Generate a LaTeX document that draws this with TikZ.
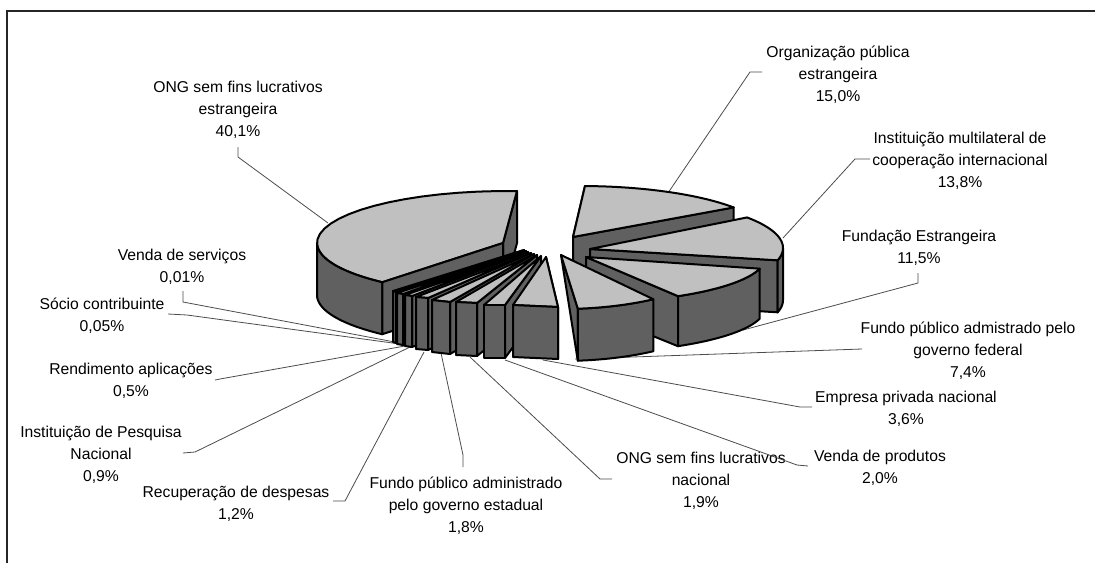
\documentclass[tikz,border=0pt]{standalone}
\usepackage{fontspec}
\setmainfont{Liberation Sans}
\definecolor{lgray}{RGB}{192,192,192}
\definecolor{dgray}{RGB}{96,96,96}
% thin slice: apex (#1,#2), front-left (#3,#4), front-right (#5,#6), depth #7
\newcommand{\smallslice}[7]{%
  \filldraw[side] (#5,#6) -- (#1,#2) -- ({#1},{#2+#7}) -- ({#5},{#6+#7}) -- cycle;
  \filldraw[top] (#1,#2) -- (#3,#4) -- (#5,#6) -- cycle;
  \filldraw[side] (#3,#4) -- (#5,#6) -- ({#5},{#6+#7}) -- ({#3},{#4+#7}) -- cycle;}
\begin{document}
\begin{tikzpicture}[x=1pt,y=-1pt,
  top/.style={fill=lgray,draw=black,line width=2pt,line join=round},
  side/.style={fill=dgray,draw=black,line width=2pt,line join=round},
  ea/.style={samples=25,variable=\q},
  lead/.style={draw=black!70,line width=0.8pt},
  lbl/.style={font=\fontsize{15.7}{22}\selectfont,align=center,inner sep=0pt,anchor=north}]
\useasboundingbox (0,0) rectangle (1095,563);
\fill[white] (0,0) rectangle (1095,563);
\draw[line width=2.5pt,black!85] (7,563) -- (7,11) -- (1095,11);

% ---------- labels ----------
\node[lbl] (l-ongest) at (238,77.2) {\strut ONG sem fins lucrativos\\estrangeira\\40,1\%};
\node[lbl] (l-org) at (838,42.2) {\strut Organização pública\\estrangeira\\15,0\%};
\node[lbl] (l-multi) at (960,128.2) {\strut Instituição multilateral de\\cooperação internacional\\13,8\%};
\node[lbl] (l-fund) at (919,226.2) {\strut Fundação Estrangeira\\11,5\%};
\node[lbl] (l-fed) at (968,318.2) {\strut Fundo público admistrado pelo\\governo federal\\7,4\%};
\node[lbl] (l-emp) at (906,387.2) {\strut Empresa privada nacional\\3,6\%};
\node[lbl] (l-vprod) at (880,446.2) {\strut Venda de produtos\\2,0\%};
\node[lbl] (l-ongnac) at (701,448.2) {\strut ONG sem fins lucrativos\\nacional\\1,9\%};
\node[lbl] (l-est) at (466,473.2) {\strut Fundo público administrado\\pelo governo estadual\\1,8\%};
\node[lbl] (l-rec) at (236,482) {\strut Recuperação de despesas\\1,2\%};
\node[lbl] (l-pesq) at (101,422.2) {\strut Instituição de Pesquisa\\Nacional\\0,9\%};
\node[lbl] (l-rend) at (131,359.2) {\strut Rendimento aplicações\\0,5\%};
\node[lbl] (l-socio) at (102,294.2) {\strut Sócio contribuinte\\0,05\%};
\node[lbl] (l-serv) at (182,245.2) {\strut Venda de serviços\\0,01\%};

% ---------- leader line end points ----------
\coordinate (t-ongest) at (238,147); \coordinate (k-ongest) at (238,157); \coordinate (p-ongest) at (328,223);
\coordinate (t-org) at (762,72);     \coordinate (k-org) at (750,72);     \coordinate (p-org) at (668,193);
\coordinate (t-multi) at (870,159);  \coordinate (k-multi) at (855,159);  \coordinate (p-multi) at (783,238);
\coordinate (t-fund) at (918,273);   \coordinate (k-fund) at (918,283);   \coordinate (p-fund) at (743,330);
\coordinate (t-fed) at (862,349);    \coordinate (p-fed) at (575,359);
\coordinate (t-emp) at (812,407);    \coordinate (k-emp) at (800,407);    \coordinate (p-emp) at (543,360);
\coordinate (t-vprod) at (808,466);  \coordinate (k-vprod) at (797,465);  \coordinate (p-vprod) at (505,360);
\coordinate (t-ongnac) at (612,479); \coordinate (k-ongnac) at (600,479); \coordinate (p-ongnac) at (470,357);
\coordinate (t-est) at (463,467);    \coordinate (k-est) at (463,455);    \coordinate (p-est) at (441,353);
\coordinate (t-rec) at (333,501);    \coordinate (k-rec) at (345,501);    \coordinate (p-rec) at (424,352);
\coordinate (t-pesq) at (183,453);   \coordinate (k-pesq) at (195,452);   \coordinate (p-pesq) at (410,347);
\coordinate (t-rend) at (215,380);   \coordinate (k-rend) at (220,379);   \coordinate (p-rend) at (405,346);
\coordinate (t-socio) at (168,314);  \coordinate (k-socio) at (187,315);  \coordinate (p-socio) at (400,344);
\coordinate (t-serv) at (183,291);   \coordinate (k-serv) at (183,302);   \coordinate (p-serv) at (400,343);

\draw[lead] (t-ongest) -- (k-ongest) -- (p-ongest);
\draw[lead] (t-org) -- (k-org) -- (p-org);
\draw[lead] (t-multi) -- (k-multi) -- (p-multi);
\draw[lead] (t-fund) -- (k-fund) -- (p-fund);
\draw[lead] (t-fed) -- (p-fed);
\draw[lead] (t-emp) -- (k-emp) -- (p-emp);
\draw[lead] (t-vprod) -- (k-vprod) -- (p-vprod);
\draw[lead] (t-ongnac) -- (k-ongnac) -- (p-ongnac);
\draw[lead] (t-est) -- (k-est) -- (p-est);
\draw[lead] (t-rec) -- (k-rec) -- (p-rec);
\draw[lead] (t-pesq) -- (k-pesq) -- (p-pesq);
\draw[lead] (t-rend) -- (k-rend) -- (p-rend);
\draw[lead] (t-socio) -- (k-socio) -- (p-socio);
\draw[lead] (t-serv) -- (k-serv) -- (p-serv);

% ---------- Organizacao publica estrangeira (15,0%) ----------
\filldraw[side] (573,237) -- (585,186) -- (585,238) -- (573,289) -- cycle;
\filldraw[side] (573,237) -- (733.7,207.4) -- (733.7,259.4) -- (573,289) -- cycle;
\filldraw[top] (573,237) -- plot[ea,domain=-88.5:-36]({580+190*cos(\q)},{238+52*sin(\q)}) -- cycle;

% ---------- Instituicao multilateral (13,8%) ----------
\filldraw[side] (590,249) -- (777.7,260.3) -- (777.7,312.3) -- (590,301) -- cycle;
\filldraw[side] plot[ea,domain=0:13.7]({595+188*cos(\q)},{248+52*sin(\q)})
   -- plot[ea,domain=-13.7:0]({595+188*cos(\q)},{300-52*sin(\q)}) -- cycle;
\filldraw[top] (590,249) -- plot[ea,domain=-36:13.7]({595+188*cos(\q)},{248+52*sin(\q)}) -- cycle;

% ---------- Fundacao Estrangeira (11,5%) ----------
\filldraw[side] (586,257) -- (678,296.2) -- (678,346.2) -- (586,309) -- cycle;
\filldraw[side] plot[ea,domain=13.7:58]({580+185*cos(\q)},{258+45*sin(\q)})
   -- plot[ea,domain=-58:-13.7]({580+185*cos(\q)},{308-45*sin(\q)}) -- cycle;
\filldraw[top] (586,257) -- plot[ea,domain=13.7:58]({580+185*cos(\q)},{258+45*sin(\q)}) -- cycle;

% ---------- Fundo publico federal (7,4%) ----------
\filldraw[side] (561,255) -- (577.8,308.7) -- (577.8,360.7) -- cycle;
\filldraw[side] plot[ea,domain=55:84]({561+161*cos(\q)},{255+54*sin(\q)})
   -- plot[ea,domain=-84:-55]({561+161*cos(\q)},{307-54*sin(\q)}) -- cycle;
\filldraw[top] (561,255) -- plot[ea,domain=55:84]({561+161*cos(\q)},{255+54*sin(\q)}) -- cycle;

% ---------- ONG sem fins lucrativos estrangeira (40,1%) ----------
\filldraw[side] (503,243) -- (517,191) -- (517,243) -- (503,295) -- cycle;
\filldraw[top] (503,243) -- plot[ea,domain=-229:-87]({507+190*cos(\q)},{243+52*sin(\q)}) -- cycle;
\filldraw[side] plot[ea,domain=131:180]({507+190*cos(\q)},{243+52*sin(\q)})
   -- plot[ea,domain=-180:-131]({507+190*cos(\q)},{295-52*sin(\q)}) -- cycle;
\filldraw[side] (382.3,282.2) -- (503,243) -- (503,295) -- (382.3,334.2) -- cycle;

% ---------- small slices (left to right) ----------
\smallslice{524}{250}{393}{291}{396}{292}{51}
\smallslice{526}{251}{397}{293}{403}{294}{51}
\smallslice{528}{252}{405}{295}{412}{296}{51}
\smallslice{531}{253}{416}{297}{428}{298}{52}
\smallslice{534}{254}{432}{300}{450}{302}{52}
\smallslice{537}{255}{456}{302}{477}{303}{53}
\smallslice{541}{256}{484}{305}{505}{305}{53}
\smallslice{546}{257}{513}{305}{558}{307}{52}
\end{tikzpicture}
\end{document}
